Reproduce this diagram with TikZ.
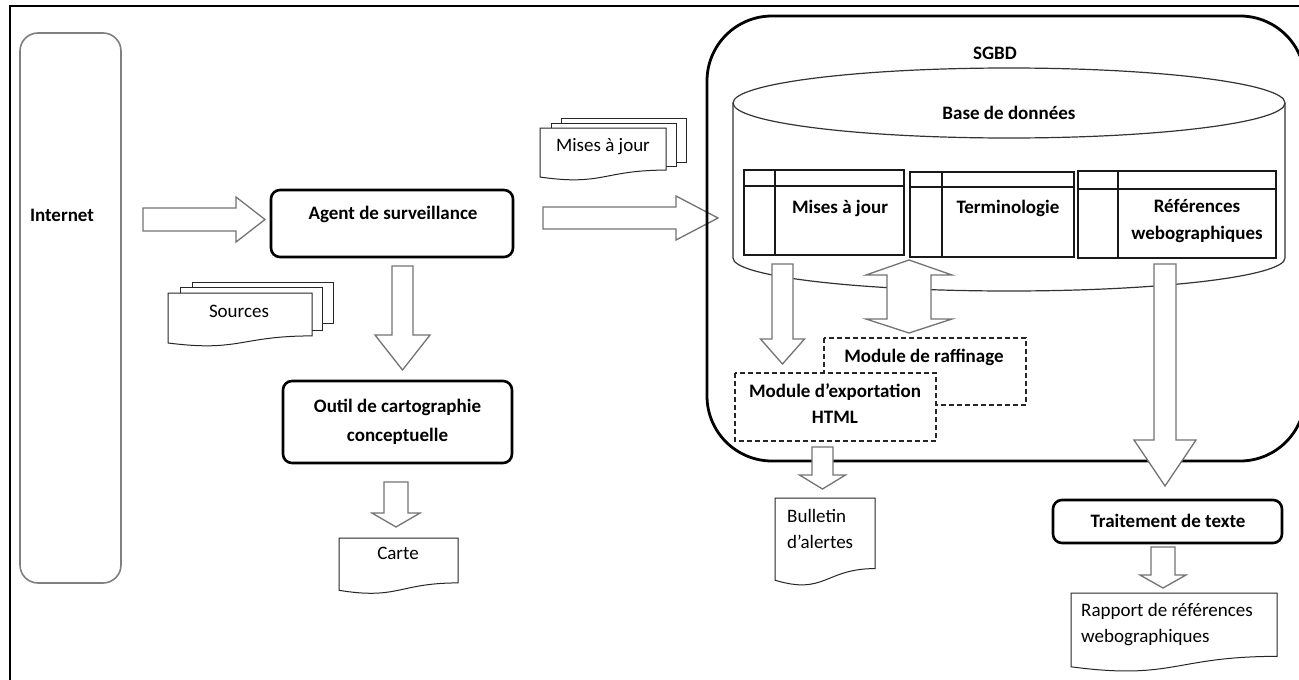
\documentclass[tikz,border=0pt]{standalone}
\usepackage{fontspec}
\setmainfont{Carlito}
\newcommand{\blkR}[6]{%
 \draw[barrow] (#1,{#4-#5}) -- (#2,{#4-#5}) -- (#2,{#4-#6}) -- (#3,#4) -- (#2,{#4+#6}) -- (#2,{#4+#5}) -- (#1,{#4+#5}) -- cycle;}
\newcommand{\blkD}[6]{%
 \draw[barrow] ({#1-#5},#2) -- ({#1+#5},#2) -- ({#1+#5},#3) -- ({#1+#6},#3) -- (#1,#4) -- ({#1-#6},#3) -- ({#1-#5},#3) -- cycle;}
\newcommand{\docshp}[4]{%
 \draw[docline] (#1,#2) -- (#3,#2) -- (#3,{#2+0.802*#4}) .. controls ({0.5*(#1+#3)},{#2+0.802*#4}) and ({0.5*(#1+#3)},{#2+1.107*#4}) .. (#1,{#2+0.934*#4}) -- cycle;}
\newcommand{\tblshp}[6]{%
 \draw[tblline] (#1,#2) rectangle (#3,#4);
 \draw[tblline] (#1,#6) -- (#3,#6);
 \draw[tblline] (#5,#2) -- (#5,#4);}
\begin{document}
\begin{tikzpicture}[x=1pt,y=-1pt,
  txt/.style={font=\fontsize{19}{26}\selectfont, inner sep=0pt, align=center},
  btxt/.style={font=\fontsize{19}{26}\selectfont\bfseries, inner sep=0pt, align=center},
  barrow/.style={draw=black!55, fill=white, line width=1.3pt, line join=miter},
  docline/.style={draw=black!85, fill=white, line width=1pt},
  tblline/.style={draw=black!90, line width=1.2pt},
  thickbox/.style={draw=black, line width=2.6pt, rounded corners=9pt},
  dashbox/.style={draw=black!85, fill=white, line width=1.2pt, dash pattern=on 5pt off 3pt},
  cyl/.style={draw=black!80, line width=1.2pt}]
\useasboundingbox (0,0) rectangle (1299,680);
\fill[white] (0,0) rectangle (1299,680);
% frame
\draw[line width=2.6pt] (10,700) -- (10,6) -- (1320,6);
% Internet
\draw[draw=black!50, line width=1.6pt, rounded corners=18pt] (20,33) rectangle (121,583);
\node[btxt] (internet) at (62,215) {Internet};
\blkR{143}{236}{265}{219.5}{11.5}{22.5}
% Agent
\draw[thickbox] (271,190) rectangle (513,257);
\node[btxt] (agent) at (393,214) {Agent de surveillance};
\blkR{543}{676}{718}{218}{11}{22}
% Mises a jour stack
\draw[docline] (561,118) rectangle (686,162);
\draw[docline] (551,123) rectangle (676,166);
\docshp{540}{128}{666}{52.5}
\node[txt] (maj) at (603,147) {Mises à jour};
% Sources stack
\draw[docline] (192,282) rectangle (333,323);
\draw[docline] (180,287) rectangle (322,330);
\docshp{168}{293}{312}{53.5}
\node[txt] (src) at (239,311) {Sources};
% Outil
\blkD{402.5}{266}{335}{370}{10.5}{27.5}
\draw[thickbox] (283,381) rectangle (512,463);
\node[btxt, font=\fontsize{19}{29}\selectfont\bfseries] (outil) at (397.5,422) {Outil de cartographie\\conceptuelle};
\blkD{396}{482}{513}{527}{12}{24}
\docshp{339}{538}{458}{56}
\node[txt] (carte) at (398,553) {Carte};
% SGBD
\draw[line width=2.8pt, rounded corners=65pt] (707,16) rectangle (1305,461);
\node[btxt] (sgbd) at (995,53) {SGBD};
% cylinder
\draw[cyl, fill=white] (733,103) -- (733,258) arc[start angle=180, end angle=0, x radius=276, y radius=33] -- (1285,103);
\draw[cyl] (1009,103) ellipse[x radius=276, y radius=35];
\node[btxt] (bdd) at (1009,113) {Base de données};
% tables
\tblshp{744}{170}{904}{255}{775}{186}
\tblshp{910}{172}{1074}{257}{942}{187}
\tblshp{1078}{171}{1276}{258}{1118}{189}
\node[btxt] (t1) at (840,208) {Mises à jour};
\node[btxt] (t2) at (1008,208) {Terminologie};
\node[btxt, font=\fontsize{19}{27}\selectfont\bfseries] (t3) at (1197,221) {Références\\webographiques};
% arrows out of DB
\blkD{782.5}{264}{339}{364}{10.5}{22}
\draw[barrow] (887,275) -- (866,275) -- (909,260) -- (952,275) -- (931,275) -- (931,319) -- (952,319) -- (909,333) -- (866,319) -- (887,319) -- cycle;
% modules
\draw[dashbox] (824,338) rectangle (1026,405);
\node[btxt] (raff) at (924,357) {Module de raffinage};
\draw[dashbox] (735,373) rectangle (936,441);
\node[btxt] (exp) at (835,404) {Module d’exportation\\HTML};
% bulletin
\blkD{822.5}{447}{475}{489}{10.5}{23}
\docshp{775}{498}{875}{88}
\node[txt, align=left, anchor=west] (bull) at (787,529) {Bulletin\\d’alertes};
% traitement
\blkD{1165}{264}{440}{486}{11}{31}
\draw[thickbox] (1053,500) rectangle (1282,543);
\node[btxt] (tt) at (1168,521) {Traitement de texte};
\blkD{1163}{547}{575}{588}{12}{23}
\docshp{1071}{593}{1277}{79}
\node[txt, align=left, anchor=west] (rap) at (1081,625) {Rapport de références\\webographiques};
\end{tikzpicture}
\end{document}
